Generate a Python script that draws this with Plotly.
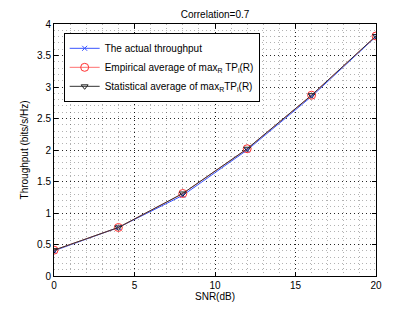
import plotly.graph_objects as go

snr = [0, 4, 8, 12, 16, 20]
actual = [0.40, 0.77, 1.28, 2.00, 2.85, 3.80]
empirical = [0.41, 0.77, 1.31, 2.02, 2.87, 3.81]
statistical = [0.41, 0.77, 1.31, 2.02, 2.87, 3.81]

names = ["The actual throughput",
         "Empirical average of max<sub>R</sub> TP<sub>i</sub>(R)",
         "Statistical average of max<sub>R</sub>TP<sub>i</sub>(R)"]

fig = go.Figure()
fig.add_trace(go.Scatter(x=snr, y=actual, name=names[0], mode="lines+markers",
                         line=dict(color="#3a55ff", width=1),
                         marker=dict(symbol="x-thin", size=5, line=dict(color="#3a55ff", width=1))))
fig.add_trace(go.Scatter(x=snr, y=empirical, name=names[1], mode="lines+markers",
                         line=dict(color="#ff7070", width=1),
                         marker=dict(symbol="circle-open", size=8, color="#ff3030", line=dict(width=1))))
fig.add_trace(go.Scatter(x=snr, y=statistical, name=names[2], mode="lines+markers",
                         line=dict(color="#333333", width=1),
                         marker=dict(symbol="triangle-down-open", size=6, color="#222222", line=dict(width=1))))

axis_common = dict(showline=True, linecolor="black", linewidth=1, mirror="ticks",
                   ticks="inside", ticklen=4, tickcolor="black", automargin=False,
                   showgrid=True, gridcolor="rgba(0,0,0,0.85)", griddash="1px,3px", gridwidth=1,
                   zeroline=False, tickfont=dict(size=10, color="black"))

minor_common = dict(showgrid=True, gridcolor="rgba(0,0,0,0.3)", griddash="1px,3px", ticks="")

fig.update_xaxes(range=[0, 20], tickvals=[0, 5, 10, 15, 20], **axis_common,
                 minor=dict(dtick=1, **minor_common),
                 title=dict(text="SNR(dB)", font=dict(size=10), standoff=2))
fig.update_yaxes(range=[0, 4], dtick=0.5, **axis_common,
                 minor=dict(dtick=0.1, **minor_common),
                 title=dict(text="Throughput (bits/s/Hz)", font=dict(size=10), standoff=6))

fig.update_layout(
    width=407, height=304,
    margin=dict(l=46, r=39, t=16, b=36),
    paper_bgcolor="white", plot_bgcolor="white",
    font=dict(family="Liberation Sans, Arial, sans-serif", size=10, color="black"),
    title=dict(text="Correlation=0.7", x=0.5, xanchor="center", xref="paper",
               y=0.978, yanchor="middle", font=dict(size=10)),
    legend=dict(x=0.03, y=0.965, xanchor="left", yanchor="top", bgcolor="white",
                bordercolor="black", borderwidth=1, font=dict(size=10),
                tracegroupgap=0, itemwidth=30),
    showlegend=True,
)

fig.write_html("out.html")
